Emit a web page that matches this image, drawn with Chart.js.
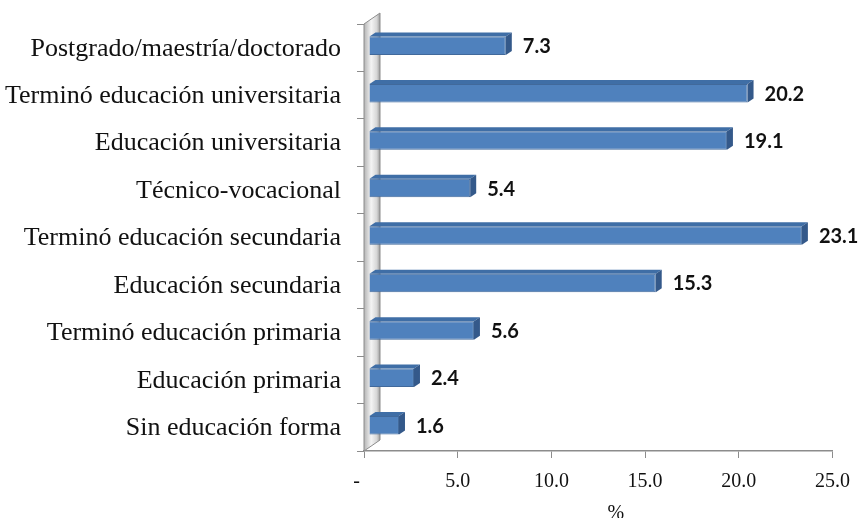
<!DOCTYPE html>
<html>
<head>
<meta charset="utf-8">
<script src="https://cdn.jsdelivr.net/npm/chart.js@4.4.1/dist/chart.umd.min.js"></script>
<style>
  html, body { margin: 0; padding: 0; background: #fff; }
  #wrap { width: 862px; height: 518px; position: relative; }
</style>
</head>
<body>
<div id="wrap"><canvas id="chart-education" width="862" height="518"></canvas></div>
<script>
const categories = [
    'Postgrado/maestría/doctorado',
    'Terminó educación universitaria',
    'Educación universitaria',
    'Técnico-vocacional',
    'Terminó educación secundaria',
    'Educación secundaria',
    'Terminó educación primaria',
    'Educación primaria',
    'Sin educación forma',
];
const percentValues = [7.3, 20.2, 19.1, 5.4, 23.1, 15.3, 5.6, 2.4, 1.6];
const xTickValues = [0, 5, 10, 15, 20, 25];
const axisTitle = '       %';

const SERIF = "'Liberation Serif', 'DejaVu Serif', serif";
const BAR_SHIFT = { x: 5, y: -2 };
const DEPTH = { x: 6, y: -4 };
const WALL = { x: 16, y: -11 };

// grey 3D back wall, then bars shifted into the depth
const wallPlugin = {
    id: 'wall3d',
    beforeDatasetsDraw(chart) {
        const { ctx, chartArea: a } = chart;
        ctx.save();
        const g = ctx.createLinearGradient(a.left, 0, a.left + WALL.x, 0);
        g.addColorStop(0, '#b4b4b4');
        g.addColorStop(0.45, '#f4f4f4');
        g.addColorStop(0.8, '#d6d6d6');
        g.addColorStop(1, '#9c9c9c');
        ctx.beginPath();
        ctx.moveTo(a.left, a.top);
        ctx.lineTo(a.left + WALL.x, a.top + WALL.y);
        ctx.lineTo(a.left + WALL.x, a.bottom + WALL.y);
        ctx.lineTo(a.left, a.bottom);
        ctx.closePath();
        ctx.fillStyle = g;
        ctx.fill();
        ctx.strokeStyle = '#8c8c8c';
        ctx.lineWidth = 1;
        ctx.stroke();
        ctx.restore();

        ctx.save();
        ctx.translate(BAR_SHIFT.x, BAR_SHIFT.y);
    },
    afterDatasetsDraw(chart) {
        const { ctx } = chart;
        const meta = chart.getDatasetMeta(0);
        meta.data.forEach((bar, i) => {
            const { x, y, base, height } = bar.getProps(['x', 'y', 'base', 'height'], true);
            const top = y - height / 2;
            const bottom = y + height / 2;
            // top face
            ctx.beginPath();
            ctx.moveTo(base, top);
            ctx.lineTo(base + DEPTH.x, top + DEPTH.y);
            ctx.lineTo(x + DEPTH.x, top + DEPTH.y);
            ctx.lineTo(x, top);
            ctx.closePath();
            ctx.fillStyle = '#3f6ea6';
            ctx.fill();
            // side face
            ctx.beginPath();
            ctx.moveTo(x, top);
            ctx.lineTo(x + DEPTH.x, top + DEPTH.y);
            ctx.lineTo(x + DEPTH.x, bottom + DEPTH.y);
            ctx.lineTo(x, bottom);
            ctx.closePath();
            ctx.fillStyle = '#34598a';
            ctx.fill();
            // value label
            ctx.fillStyle = '#111';
            ctx.font = "bold 20px Lato, 'Open Sans', sans-serif";
            ctx.textAlign = 'left';
            ctx.textBaseline = 'middle';
            ctx.fillText(percentValues[i].toFixed(1), x + 17, y + 1);
        });
        ctx.restore();
    },
};

const canvas = document.getElementById('chart-education');
const ctx = canvas.getContext('2d');

new Chart(ctx, {
    type: 'bar',
    data: {
        labels: categories,
        datasets: [
            {
                label: '%',
                data: percentValues,
                backgroundColor: '#4f81bd',
                borderColor: '#41699b',
                borderWidth: 1,
                barPercentage: 0.39,
                categoryPercentage: 1,
            },
        ],
    },
    plugins: [wallPlugin],
    options: {
        indexAxis: 'y',
        responsive: false,
        animation: false,
        layout: { padding: { top: 24, right: 29, bottom: 0, left: 0 } },
        plugins: {
            legend: { display: false },
            tooltip: { enabled: false },
        },
        scales: {
            x: {
                min: 0,
                max: 25,
                afterBuildTicks: axis => { axis.ticks = xTickValues.map(v => ({ value: v })); },
                afterFit: axis => { axis.height = 67; },
                ticks: {
                    color: '#111',
                    font: { family: SERIF, size: 20 },
                    padding: 12,
                    maxRotation: 0,
                    callback: v => (v === 0 ? '-   ' : v.toFixed(1)),
                },
                grid: {
                    drawOnChartArea: false,
                    color: '#8c8c8c',
                    tickLength: 7,
                },
                border: { color: '#8c8c8c', width: 1.5 },
                title: {
                    display: true,
                    text: axisTitle,
                    color: '#111',
                    font: { family: SERIF, size: 20 },
                    padding: { top: 0, bottom: -8 },
                },
            },
            y: {
                afterFit: axis => {
                    axis.width = 364;
                    axis.paddingTop = 0;
                    axis.paddingBottom = 0;
                },
                ticks: {
                    color: '#111',
                    font: { family: SERIF, size: 26 },
                    padding: 16,
                    labelOffset: 1,
                },
                grid: {
                    offset: true,
                    drawOnChartArea: false,
                    color: '#8c8c8c',
                    tickLength: 7,
                },
                border: { display: false },
            },
        },
    },
});
</script>
</body>
</html>
